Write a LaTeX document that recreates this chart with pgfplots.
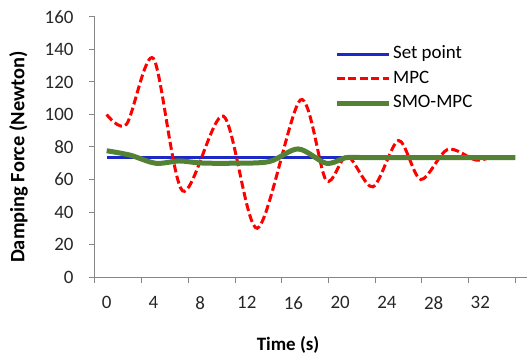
\documentclass[border=0pt]{standalone}
\usepackage{fontspec}
\setmainfont{Carlito}
\usepackage{pgfplots}
\pgfplotsset{compat=1.18}
\definecolor{spblue}{RGB}{28,40,200}
\definecolor{mpcred}{RGB}{255,0,0}
\definecolor{smogreen}{RGB}{84,130,53}
\definecolor{axgray}{RGB}{134,134,134}
\newcommand{\cf}{\fontsize{19}{23}\selectfont}
\begin{document}
\begin{tikzpicture}
\path[use as bounding box] (-95bp,-81bp) rectangle (433bp,277bp);
\begin{axis}[
  scale only axis, width=432bp, height=260bp,
  xmin=-1, xmax=36, ymin=0, ymax=160,
  axis x line*=bottom, axis y line*=left,
  axis line style={axgray, line width=1bp, -},
  ytick={0,20,...,160},
  xtick={-1,3,...,35}, xticklabels={},
  extra x ticks={0,4,...,32},
  extra x tick style={major tick length=0pt},
  tick align=outside, major tick length=6bp,
  tick style={axgray, line width=1bp},
  /pgf/number format/assume math mode=true,
  ticklabel style={font=\cf, text=black!85},
  yticklabel style={xshift=-12bp},
  xticklabel style={yshift=-16bp},
  xlabel={\bfseries Time (s)},
  label style={font=\cf},
  xlabel style={at={(rel axis cs:0.447,0)}, anchor=center, yshift=-68bp},
  clip=false,
  legend style={at={(rel axis cs:0.553,0.897)}, anchor=north west, draw=none, fill=none,
    font=\cf, inner sep=0pt, row sep=3.5bp, nodes={inner sep=2bp, text height=13bp, text depth=4bp}},
  legend cell align=left,
  legend image code/.code={\draw[#1] (0bp,0bp) -- (52bp,0bp);},
]
\addplot[spblue, line width=3bp] coordinates {(0,73.5) (35,73.5)};
\addlegendentry{Set point}
\addplot[mpcred, line width=3bp, dash pattern=on 8bp off 3.5bp, smooth] coordinates {
(0,100) (1.7,94) (4,134.5) (6.5,53) (10,99) (12.9,30) (16.6,109) (18.8,59.5)
(20.6,74.5) (22.8,55.5) (25,84) (26.9,60) (29.2,78.5) (31.6,72) (33,73.5) (35,73.5)};
\addlegendentry{MPC}
\addplot[smogreen, line width=5bp, smooth] coordinates {
(0,77.7) (2,75) (4.2,70) (6.2,71.4) (8,70.2) (10.5,70) (13.9,71) (16.4,78.8)
(18.8,70) (20.5,73.4) (22,73.5) (25,73.5) (30,73.5) (35,73.5)};
\addlegendentry{SMO-MPC}
\node[rotate=90, font=\fontsize{20.5}{24}\selectfont\bfseries, anchor=center] at (rel axis cs:-0.1771,0.4615) {Damping Force (Newton)};
\end{axis}
\end{tikzpicture}
\end{document}
